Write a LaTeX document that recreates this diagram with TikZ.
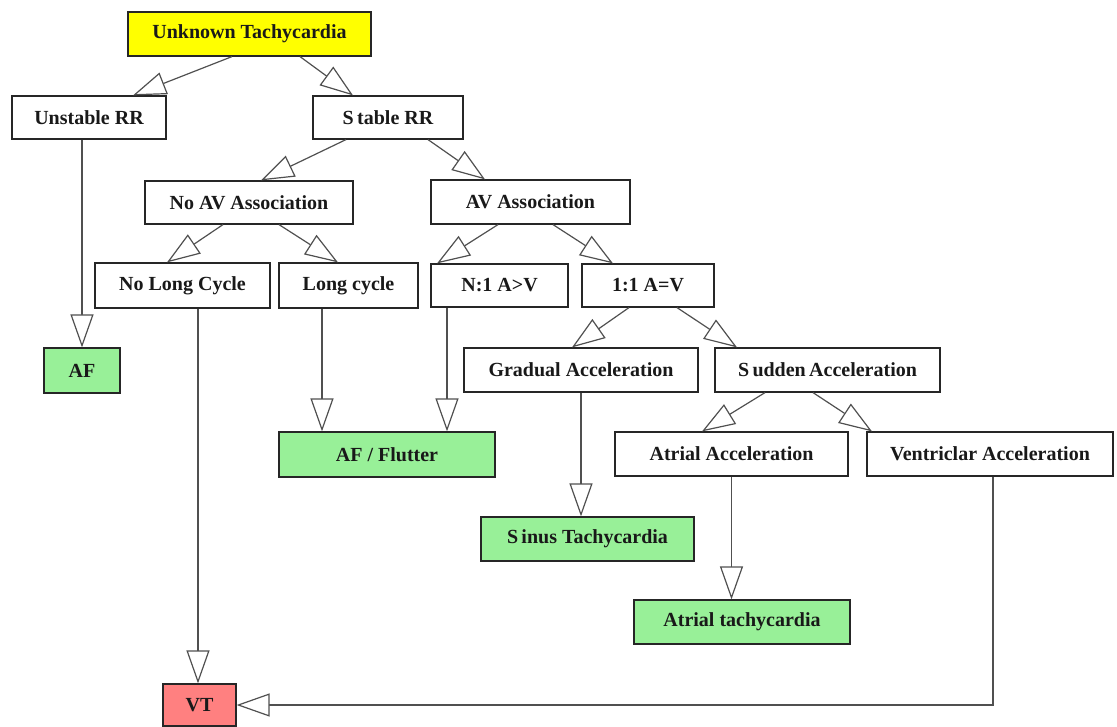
\documentclass[tikz,border=0pt]{standalone}
\usepackage{fontspec}
\setmainfont{Liberation Serif}
\usetikzlibrary{arrows.meta}
\definecolor{startyellow}{HTML}{FFFF00}
\definecolor{resultgreen}{HTML}{98F098}
\definecolor{vtred}{HTML}{FF8080}
\definecolor{linegray}{HTML}{505050}
\tikzset{
  stepbox/.style={draw=black!85, line width=1.2pt, fill=white, inner sep=0pt,
    font=\fontsize{20}{22}\selectfont\bfseries, text=black!90},
  startbox/.style={stepbox, fill=startyellow},
  okbox/.style={stepbox, fill=resultgreen},
  vtbox/.style={stepbox, fill=vtred},
  link/.style={draw=linegray, line width=1.2pt,
    -{Triangle[length=33pt, width=23pt, fill=white, line width=1.2pt]}},
}
\newcommand{\flowbox}[8]{%
  % #1 style, #2 name, #3 cx, #4 cy, #5 width, #6 height, #7 text
  \node[#1, minimum width=#5pt, minimum height=#6pt] (#2) at (#3,#4) {#7};#8}
\begin{document}
\begin{tikzpicture}[x=1pt, y=-1pt]
\useasboundingbox (0,0) rectangle (1117,727);

% boxes
\flowbox{startbox}{ut}{249.5}{34}{243}{44}{Unknown Tachycardia}{}
\flowbox{stepbox}{unst}{89}{117.5}{154}{43}{Unstable RR}{}
\flowbox{stepbox}{st}{388}{117.5}{150}{43}{S\,table RR}{}
\flowbox{stepbox}{noav}{249}{202.5}{208}{43}{No AV Association}{}
\flowbox{stepbox}{av}{530.5}{202}{199}{44}{AV Association}{}
\flowbox{stepbox}{nlc}{182.5}{285.5}{175}{45}{No Long Cycle}{}
\flowbox{stepbox}{lc}{348.5}{285.5}{139}{45}{Long cycle}{}
\flowbox{stepbox}{none}{499.5}{285.5}{137}{43}{N:1 A>V}{}
\flowbox{stepbox}{oneone}{648}{285.5}{132}{43}{1:1 A=V}{}
\flowbox{okbox}{af}{82}{370.5}{76}{45}{AF}{}
\flowbox{stepbox}{grad}{581}{370}{234}{44}{Gradual Acceleration}{}
\flowbox{stepbox}{sud}{827.5}{370}{225}{44}{S\,udden\,Acceleration}{}
\flowbox{okbox}{aff}{387}{454.5}{216}{45}{AF / Flutter}{}
\flowbox{stepbox}{atacc}{731.5}{454}{233}{44}{Atrial Acceleration}{}
\flowbox{stepbox}{vent}{990}{454}{246}{44}{Ventriclar Acceleration}{}
\flowbox{okbox}{sinus}{587.5}{539}{213}{44}{S\,inus Tachycardia}{}
\flowbox{okbox}{attach}{742}{622}{216}{44}{Atrial tachycardia}{}
\flowbox{vtbox}{vt}{199.5}{705}{73}{42}{VT}{}

% slanted connectors
\draw[link] ([xshift=-17.5pt]ut.south) -- ([xshift=44pt]unst.north);
\draw[link] ([xshift=50.5pt]ut.south) -- ([xshift=-35pt]st.north);
\draw[link] ([xshift=-42pt]st.south) -- ([xshift=12pt]noav.north);
\draw[link] ([xshift=40pt]st.south) -- ([xshift=-45.5pt]av.north);
\draw[link] ([xshift=-26pt]noav.south) -- ([xshift=-15.5pt]nlc.north);
\draw[link] ([xshift=30pt]noav.south) -- ([xshift=-10.5pt]lc.north);
\draw[link] ([xshift=-32.5pt]av.south) -- ([xshift=-62.5pt]none.north);
\draw[link] ([xshift=22.5pt]av.south) -- ([xshift=-35pt]oneone.north);
\draw[link] ([xshift=-19pt]oneone.south) -- ([xshift=-9pt]grad.north);
\draw[link] ([xshift=29pt]oneone.south) -- ([xshift=-90.5pt]sud.north);
\draw[link] ([xshift=-62.5pt]sud.south) -- ([xshift=-29.5pt]atacc.north);
\draw[link] ([xshift=-14.5pt]sud.south) -- ([xshift=-118pt]vent.north);

% vertical connectors
\draw[link] (unst.south -| af.north) -- (af.north);
\draw[link] ([xshift=-26.5pt]lc.south) -- ([xshift=-26.5pt]lc.south |- aff.north);
\draw[link] ([xshift=-52.5pt]none.south) -- ([xshift=-52.5pt]none.south |- aff.north);
\draw[link] (grad.south) -- (grad.south |- sinus.north);
\draw[link] (atacc.south) -- (atacc.south |- attach.north);
\draw[link] ([xshift=-1.5pt]vt.north |- nlc.south) -- ([xshift=-1.5pt]vt.north);
\draw[link] ([xshift=3pt]vent.south) |- (vt.east);
\end{tikzpicture}
\end{document}
